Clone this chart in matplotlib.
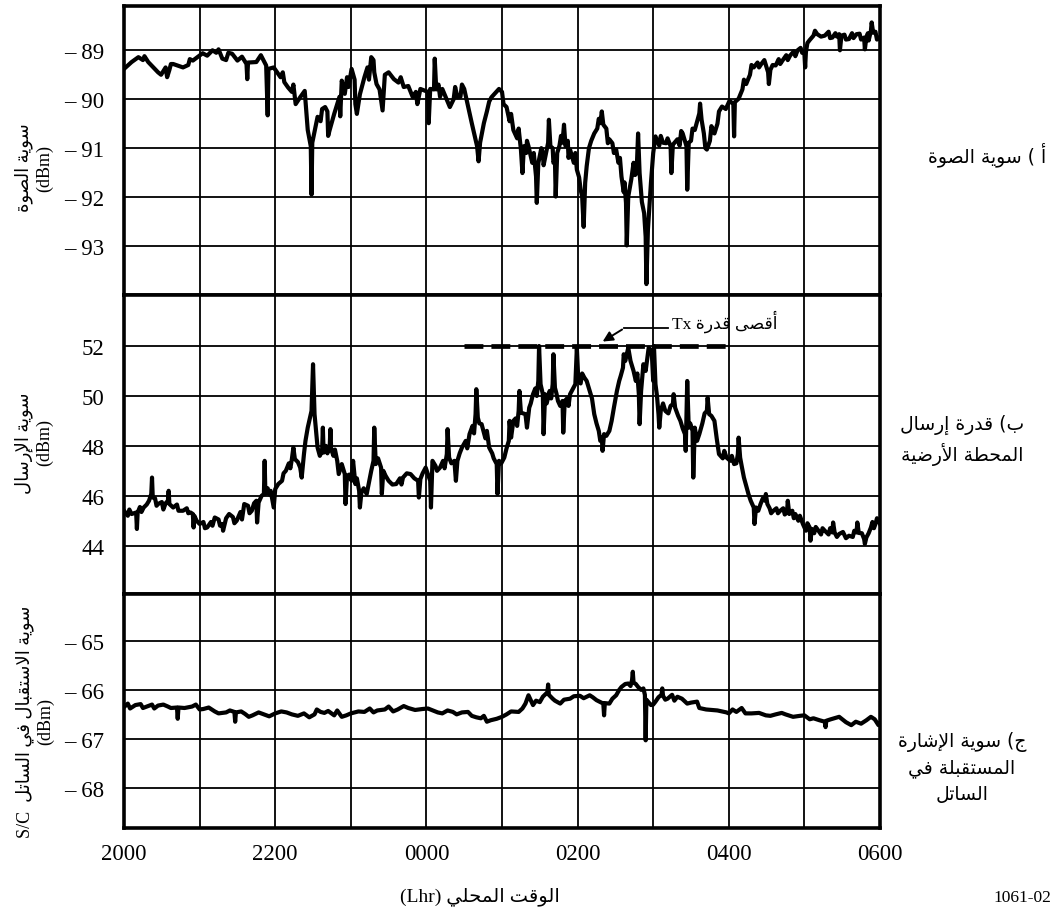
import matplotlib
matplotlib.use("Agg")
import matplotlib.pyplot as plt

# ---- Arabic shaping (presentation forms, visual order) ----
AR_FORMS = {
    'ا': (0xFE8D, 2), 'أ': (0xFE83, 2), 'إ': (0xFE87, 2),
    'ب': (0xFE8F, 4), 'ة': (0xFE93, 2), 'ت': (0xFE95, 4),
    'ج': (0xFE9D, 4), 'ح': (0xFEA1, 4), 'د': (0xFEA9, 2),
    'ر': (0xFEAD, 2), 'س': (0xFEB1, 4), 'ش': (0xFEB5, 4),
    'ص': (0xFEB9, 4), 'ض': (0xFEBD, 4), 'ط': (0xFEC1, 4),
    'ف': (0xFED1, 4), 'ق': (0xFED5, 4), 'ل': (0xFEDD, 4),
    'م': (0xFEE1, 4), 'و': (0xFEED, 2), 'ى': (0xFEEF, 2),
    'ي': (0xFEF1, 4),
}
LAM_ALEF = {'ا': 0xFEFB, 'أ': 0xFEF7, 'إ': 0xFEF9}


def ar(text):
    toks = []
    i = 0
    while i < len(text):
        c = text[i]
        if c == 'ل' and text[i + 1:i + 2] in LAM_ALEF:
            toks.append((LAM_ALEF[text[i + 1]], 2))
            i += 2
        elif c in AR_FORMS:
            toks.append(AR_FORMS[c])
            i += 1
        else:
            toks.append(c)
            i += 1
    out = []
    for k, t in enumerate(toks):
        if isinstance(t, str):
            out.append(t)
            continue
        base, n = t
        prev = toks[k - 1] if k > 0 else None
        nxt = toks[k + 1] if k + 1 < len(toks) else None
        jp = isinstance(prev, tuple) and prev[1] == 4
        jn = n == 4 and isinstance(nxt, tuple)
        off = 3 if (jp and jn) else 1 if jp else 2 if jn else 0
        out.append(chr(base + off))
    s = ''.join(out)[::-1]
    return s.translate(str.maketrans('()', ')('))


def ar_lines(*lines):
    return '\n'.join(ar(l) for l in lines)


# ---- data: hours after 2000 local time ----
# (a) noise level, dBm
noise_t = [0.00, 0.10, 0.19, 0.32, 0.45, 0.49, 0.55, 0.57, 0.65, 0.78, 0.91, 1.04, 1.10, 1.17,
           1.30, 1.43, 1.50, 1.56, 1.62, 1.63, 1.64, 1.75, 1.81, 1.88, 1.90, 1.91, 1.98, 2.07,
           2.17, 2.27, 2.33, 2.39, 2.43, 2.47, 2.48, 2.49, 2.56, 2.66, 2.72, 2.78, 2.82, 2.88,
           2.92, 3.01, 3.08, 3.12, 3.18, 3.27, 3.34, 3.42, 3.50, 3.57, 3.63, 3.76, 3.82, 3.92,
           4.02, 4.03, 4.05, 4.10, 4.11, 4.13, 4.21, 4.31, 4.41, 4.50, 4.60, 4.67, 4.69, 4.71,
           4.76, 4.86, 4.96, 5.06, 5.15, 5.25, 5.27, 5.29, 5.35, 5.45, 5.46, 5.48, 5.54, 5.61,
           5.62, 5.64, 5.70, 5.71, 5.73, 5.80, 5.82, 5.84, 5.90, 5.99, 6.06, 6.08, 6.10, 6.12,
           6.22, 6.30, 6.32, 6.34, 6.42, 6.51, 6.58, 6.64, 6.65, 6.67, 6.71, 6.78, 6.80, 6.82,
           6.88, 6.90, 6.91, 6.93, 6.97, 7.03, 7.13, 7.23, 7.24, 7.26, 7.32, 7.39, 7.44, 7.45,
           7.47, 7.55, 7.61, 7.62, 7.64, 7.71, 7.81, 7.91, 8.01, 8.06, 8.07, 8.08, 8.13, 8.23,
           8.33, 8.43, 8.52, 8.53, 8.55, 8.62, 8.71, 8.81, 8.91, 9.00, 9.01, 9.02, 9.07, 9.17,
           9.27, 9.37, 9.46, 9.47, 9.49, 9.59, 9.69, 9.79, 9.80, 9.82, 9.88, 9.89, 9.91, 9.98,
           10.0]
noise_dbm = [-89.38, -89.24, -89.14, -89.24, -89.45, -89.50, -89.35, -89.55, -89.28, -89.35,
             -89.21, -89.06, -89.11, -89.00, -89.17, -89.07, -89.21, -89.13, -89.28, -89.59,
             -89.25, -89.24, -89.10, -89.31, -90.33, -89.38, -89.35, -89.55, -89.76, -90.10,
             -89.96, -89.83, -90.63, -90.96, -91.95, -90.89, -90.36, -90.16, -90.63, -90.30,
             -90.10, -89.62, -89.89, -89.38, -90.30, -89.90, -89.55, -89.14, -89.69, -90.23,
             -89.45, -89.59, -89.66, -89.73, -89.96, -89.79, -89.85, -90.49, -89.79, -89.80,
             -89.17, -89.80, -89.79, -90.16, -89.96, -89.79, -90.49, -90.96, -91.27, -90.89,
             -90.49, -89.96, -89.79, -90.16, -90.63, -91.03, -91.51, -90.96, -90.96, -91.58,
             -92.12, -91.31, -91.10, -90.89, -90.42, -90.96, -91.24, -91.99, -91.10, -90.89,
             -90.52, -90.96, -91.03, -91.44, -91.99, -92.61, -91.71, -91.37, -90.70, -90.49,
             -90.25, -90.52, -90.82, -91.03, -91.58, -92.12, -92.99, -91.99, -91.64, -91.51,
             -90.70, -91.51, -92.33, -92.81, -93.78, -92.67, -91.71, -90.76, -90.89, -90.96,
             -91.51, -90.93, -90.82, -90.70, -90.96, -91.85, -90.89, -90.63, -90.29, -90.09,
             -90.42, -91.03, -90.70, -90.15, -90.03, -90.10, -90.76, -90.06, -89.99, -89.69,
             -89.35, -89.28, -89.45, -89.69, -89.40, -89.31, -89.21, -89.11, -89.00, -89.07,
             -89.35, -89.04, -88.79, -88.67, -88.70, -88.74, -88.67, -89.00, -88.70, -88.77,
             -88.67, -88.74, -88.98, -88.73, -88.60, -88.43, -88.64, -88.74, -88.77]
# ripple along the noise trace
noise_t_fine = [0.25, 0.27, 0.60, 0.62, 0.85, 0.87, 1.22, 1.25, 1.35, 1.38, 2.10, 2.12, 2.22,
                2.24, 2.60, 2.62, 2.69, 2.70, 2.85, 2.86, 2.95, 2.97, 3.05, 3.06, 3.22, 3.24,
                3.30, 3.31, 3.38, 3.45, 3.66, 3.70, 3.86, 3.88, 4.16, 4.18, 4.36, 4.38, 4.45,
                4.47, 4.80, 4.83, 5.00, 5.02, 5.10, 5.12, 5.20, 5.22, 5.32, 5.33, 5.40, 5.42,
                5.52, 5.55, 5.67, 5.68, 5.76, 5.78, 5.87, 5.88, 5.95, 5.97, 6.02, 6.04, 6.15,
                6.18, 6.26, 6.28, 6.38, 6.40, 6.46, 6.48, 6.54, 6.56, 6.61, 6.62, 6.74, 6.76,
                6.85, 7.00, 7.08, 7.10, 7.17, 7.19, 7.35, 7.37, 7.50, 7.52, 7.67, 7.69, 7.75,
                7.77, 7.85, 7.87, 7.96, 8.18, 8.20, 8.28, 8.30, 8.38, 8.40, 8.47, 8.58, 8.66,
                8.68, 8.76, 8.78, 8.86, 8.88, 8.95, 8.97, 9.04, 9.12, 9.14, 9.22, 9.32, 9.34,
                9.41, 9.43, 9.53, 9.55, 9.63, 9.65, 9.73, 9.75, 9.84, 9.85, 9.94, 9.96]
noise_dbm_fine = [-89.20, -89.12, -89.40, -89.28, -89.30, -89.18, -89.05, -88.98, -89.20,
                  -89.05, -89.45, -89.65, -89.85, -89.70, -90.45, -90.20, -90.25, -90.75,
                  -89.95, -90.35, -89.55, -89.75, -89.60, -90.10, -89.35, -89.60, -89.20,
                  -89.45, -89.80, -89.50, -89.55, -89.75, -89.85, -90.10, -89.70, -89.95,
                  -90.00, -89.75, -89.95, -89.70, -90.25, -90.05, -89.85, -90.10, -90.45,
                  -90.30, -90.80, -90.60, -91.10, -90.85, -91.30, -91.10, -91.00, -91.35,
                  -91.00, -91.30, -90.95, -90.75, -90.85, -91.20, -91.30, -91.10, -91.60,
                  -91.85, -91.00, -90.85, -90.60, -90.40, -90.60, -90.90, -90.90, -91.10,
                  -91.30, -91.20, -91.90, -91.70, -91.30, -91.55, -92.10, -91.10, -90.95,
                  -90.75, -90.90, -90.80, -90.95, -90.65, -90.85, -90.60, -90.70, -91.00,
                  -90.85, -90.55, -90.50, -90.25, -90.20, -89.80, -89.60, -89.50, -89.30,
                  -89.25, -89.35, -89.20, -89.30, -89.18, -89.28, -89.10, -89.20, -89.02,
                  -89.12, -88.95, -89.05, -88.85, -88.70, -88.60, -88.72, -88.62, -88.75,
                  -88.65, -88.72, -88.68, -88.78, -88.65, -88.75, -88.66, -88.78, -88.65,
                  -88.80, -88.62, -88.78]

# (b) earth-station transmit power, dBm
tx_t = [0.00, 0.10, 0.16, 0.17, 0.18, 0.26, 0.33, 0.36, 0.37, 0.38, 0.45, 0.58, 0.59, 0.60,
        0.65, 0.78, 0.88, 0.91, 0.92, 0.93, 1.00, 1.10, 1.20, 1.30, 1.31, 1.39, 1.49, 1.59,
        1.69, 1.75, 1.76, 1.78, 1.85, 1.86, 1.87, 1.94, 1.98, 2.00, 2.04, 2.14, 2.22, 2.24,
        2.26, 2.33, 2.35, 2.38, 2.43, 2.48, 2.50, 2.52, 2.56, 2.62, 2.63, 2.64, 2.72, 2.73,
        2.74, 2.82, 2.84, 2.88, 2.92, 2.93, 2.95, 3.01, 3.03, 3.06, 3.11, 3.12, 3.14, 3.21,
        3.30, 3.31, 3.33, 3.40, 3.41, 3.43, 3.50, 3.60, 3.69, 3.79, 3.89, 3.90, 3.92, 3.99,
        4.05, 4.06, 4.08, 4.18, 4.27, 4.28, 4.30, 4.37, 4.39, 4.41, 4.47, 4.57, 4.65, 4.66,
        4.68, 4.73, 4.83, 4.93, 4.94, 4.96, 5.03, 5.09, 5.10, 5.12, 5.15, 5.22, 5.23, 5.25,
        5.31, 5.33, 5.36, 5.41, 5.48, 5.49, 5.51, 5.54, 5.55, 5.57, 5.61, 5.67, 5.68, 5.70,
        5.74, 5.80, 5.81, 5.83, 5.90, 5.97, 5.99, 6.01, 6.09, 6.16, 6.22, 6.28, 6.32, 6.33,
        6.35, 6.42, 6.48, 6.55, 6.60, 6.61, 6.63, 6.67, 6.74, 6.81, 6.82, 6.84, 6.87, 6.94,
        6.98, 7.00, 7.01, 7.03, 7.07, 7.08, 7.10, 7.16, 7.26, 7.27, 7.29, 7.36, 7.42, 7.43,
        7.45, 7.47, 7.52, 7.53, 7.55, 7.61, 7.71, 7.72, 7.74, 7.81, 7.87, 7.97, 8.07, 8.12,
        8.13, 8.15, 8.20, 8.26, 8.33, 8.34, 8.36, 8.42, 8.48, 8.49, 8.51, 8.59, 8.68, 8.77,
        8.78, 8.80, 8.88, 8.98, 9.07, 9.08, 9.10, 9.17, 9.27, 9.37, 9.38, 9.40, 9.46, 9.59,
        9.69, 9.70, 9.72, 9.79, 9.80, 9.82, 9.88, 9.94, 9.98, 10.0]
tx_dbm = [45.40, 45.27, 45.33, 44.67, 45.33, 45.53, 45.80, 46.07, 46.73, 45.93, 45.67, 45.80,
          46.20, 45.67, 45.53, 45.40, 45.33, 45.27, 44.73, 45.20, 44.87, 44.73, 45.13, 44.87,
          44.60, 45.27, 45.00, 45.67, 45.40, 45.80, 44.93, 45.73, 46.07, 47.40, 46.07, 46.20,
          45.53, 46.27, 46.47, 47.00, 47.47, 47.93, 47.47, 47.13, 46.73, 47.67, 48.73, 49.40,
          51.27, 49.27, 47.93, 47.80, 48.73, 47.73, 47.93, 48.67, 47.87, 47.40, 46.87, 47.27,
          46.87, 45.67, 46.80, 46.60, 47.40, 46.47, 46.20, 45.53, 46.13, 46.07, 47.40, 48.73,
          47.27, 47.13, 46.07, 47.00, 46.60, 46.47, 46.73, 46.87, 46.60, 45.93, 46.67, 47.13,
          46.60, 45.53, 47.40, 47.13, 47.67, 48.67, 47.53, 47.40, 46.60, 47.40, 47.93, 48.47,
          49.27, 50.27, 49.13, 48.87, 47.93, 47.27, 46.07, 47.40, 47.53, 48.20, 49.00, 48.33,
          49.00, 49.40, 50.20, 49.33, 49.27, 48.73, 49.53, 50.07, 50.60, 52.00, 50.47, 50.07,
          48.47, 50.07, 49.93, 50.47, 51.67, 50.33, 49.80, 49.80, 48.53, 49.80, 50.07, 50.47,
          51.93, 50.60, 50.73, 50.20, 49.27, 48.60, 48.33, 47.80, 48.47, 48.60, 49.53, 50.60,
          51.13, 51.67, 51.40, 51.93, 51.00, 50.07, 48.87, 50.20, 51.27, 51.93, 51.80, 50.60,
          52.00, 50.47, 49.27, 48.73, 49.40, 49.40, 49.67, 50.07, 49.53, 49.00, 48.47, 47.80,
          50.60, 48.73, 48.60, 46.73, 48.73, 48.47, 49.40, 49.93, 49.27, 49.00, 47.67, 47.53,
          47.27, 47.67, 48.33, 47.53, 46.73, 46.07, 45.53, 44.87, 45.53, 45.67, 45.80, 46.07,
          45.67, 45.40, 45.40, 45.33, 45.80, 45.27, 45.27, 44.87, 44.73, 44.20, 44.67, 44.67,
          44.60, 44.53, 44.93, 44.53, 44.47, 44.40, 44.53, 44.93, 44.51, 44.27, 44.07, 44.33,
          44.73, 44.87, 45.00, 44.87]
tx_t_fine = [0.05, 0.07, 0.21, 0.23, 0.30, 0.41, 0.43, 0.50, 0.52, 0.55, 0.70, 0.72, 0.83,
             0.85, 0.96, 1.05, 1.07, 1.15, 1.17, 1.25, 1.27, 1.35, 1.44, 1.46, 1.54, 1.56,
             1.64, 1.66, 1.72, 1.82, 1.90, 1.92, 2.09, 2.11, 2.18, 2.20, 2.30, 2.40, 2.59,
             2.67, 2.69, 2.77, 2.79, 2.98, 3.08, 3.17, 3.25, 3.27, 3.36, 3.46, 3.55, 3.65,
             3.67, 3.74, 3.84, 3.95, 4.12, 4.14, 4.22, 4.24, 4.33, 4.44, 4.52, 4.54, 4.61,
             4.63, 4.70, 4.78, 4.80, 4.87, 4.89, 4.99, 5.06, 5.18, 5.20, 5.28, 5.38, 5.44,
             5.46, 5.59, 5.63, 5.65, 5.72, 5.77, 5.86, 5.88, 5.94, 6.04, 6.06, 6.12, 6.19,
             6.25, 6.30, 6.38, 6.45, 6.52, 6.57, 6.70, 6.77, 6.79, 6.90, 7.05, 7.13, 7.20,
             7.23, 7.33, 7.39, 7.49, 7.58, 7.65, 7.68, 7.77, 7.84, 7.92, 7.94, 8.02, 8.04,
             8.10, 8.17, 8.23, 8.29, 8.39, 8.45, 8.54, 8.56, 8.63, 8.65, 8.72, 8.74, 8.84,
             8.86, 8.92, 8.94, 9.02, 9.04, 9.13, 9.15, 9.22, 9.24, 9.32, 9.34, 9.43, 9.51,
             9.55, 9.64, 9.66, 9.76, 9.85, 9.90, 9.92, 9.96]
tx_dbm_fine = [45.20, 45.45, 45.55, 45.35, 45.65, 45.90, 45.60, 45.75, 45.45, 45.70, 45.65,
               45.40, 45.50, 45.30, 45.00, 44.95, 44.70, 44.95, 44.80, 45.05, 44.80, 45.10,
               45.15, 44.90, 45.35, 45.05, 45.60, 45.30, 45.70, 46.00, 46.30, 46.05, 46.60,
               46.90, 47.30, 47.10, 47.35, 48.20, 47.60, 48.00, 47.70, 47.60, 47.85, 46.85,
               46.70, 46.30, 46.70, 47.00, 47.50, 46.80, 46.45, 46.70, 46.45, 46.90, 46.70,
               46.90, 47.20, 47.00, 47.40, 47.10, 47.30, 47.70, 48.20, 47.90, 48.80, 48.50,
               48.90, 48.30, 48.60, 47.70, 47.50, 47.30, 47.90, 49.10, 48.80, 49.30, 49.70,
               50.30, 50.00, 49.70, 50.20, 49.90, 50.10, 49.60, 49.90, 49.60, 50.30, 50.50,
               50.90, 50.60, 49.90, 48.90, 48.20, 48.40, 49.00, 50.20, 50.80, 51.40, 50.60,
               50.90, 51.00, 50.00, 49.70, 49.30, 49.60, 49.20, 48.70, 48.90, 48.20, 48.90,
               49.30, 49.20, 48.30, 47.50, 47.80, 47.40, 47.60, 47.30, 47.20, 46.40, 45.80,
               45.40, 45.90, 45.50, 45.30, 45.50, 45.30, 45.50, 45.25, 45.40, 45.10, 45.00,
               45.20, 44.60, 44.90, 44.50, 44.75, 44.45, 44.70, 44.45, 44.70, 44.35, 44.55,
               44.30, 44.35, 44.60, 44.50, 44.50, 44.95, 44.70, 45.10]

# (c) received level at the satellite, dBm
rx_t = [0.00, 0.15, 0.30, 0.45, 0.58, 0.70, 0.71, 0.72, 0.80, 0.90, 1.05, 1.20, 1.35, 1.46,
        1.47, 1.48, 1.60, 1.70, 1.85, 2.00, 2.15, 2.30, 2.45, 2.60, 2.70, 2.88, 3.00, 3.18,
        3.35, 3.56, 3.76, 3.95, 4.10, 4.21, 4.35, 4.47, 4.60, 4.72, 4.80, 4.93, 5.06, 5.22,
        5.31, 5.35, 5.41, 5.54, 5.60, 5.61, 5.62, 5.67, 5.77, 5.90, 6.03, 6.16, 6.25, 6.34,
        6.35, 6.36, 6.42, 6.51, 6.58, 6.67, 6.72, 6.73, 6.74, 6.80, 6.87, 6.89, 6.90, 6.91,
        6.97, 7.03, 7.11, 7.12, 7.13, 7.19, 7.32, 7.45, 7.58, 7.61, 7.78, 7.97, 8.10, 8.17,
        8.30, 8.49, 8.62, 8.75, 8.94, 9.07, 9.20, 9.27, 9.28, 9.29, 9.46, 9.62, 9.75, 9.88,
        9.98, 10.0]
rx_dbm = [-66.35, -66.31, -66.34, -66.32, -66.34, -66.36, -66.59, -66.36, -66.37, -66.34,
          -66.39, -66.44, -66.46, -66.45, -66.65, -66.46, -66.49, -66.52, -66.50, -66.48,
          -66.46, -66.53, -66.56, -66.45, -66.43, -66.55, -66.48, -66.45, -66.42, -66.44,
          -66.37, -66.39, -66.43, -66.48, -66.45, -66.46, -66.53, -66.58, -66.65, -66.59,
          -66.50, -66.45, -66.28, -66.11, -66.31, -66.14, -66.05, -65.89, -66.10, -66.18,
          -66.28, -66.18, -66.12, -66.11, -66.21, -66.28, -66.52, -66.27, -66.28, -66.11,
          -65.94, -65.87, -65.80, -65.63, -65.85, -65.94, -65.97, -66.10, -67.03, -66.20,
          -66.31, -66.24, -66.10, -65.97, -66.12, -66.18, -66.14, -66.28, -66.24, -66.37,
          -66.41, -66.46, -66.45, -66.37, -66.48, -66.52, -66.50, -66.50, -66.53, -66.60,
          -66.62, -66.65, -66.76, -66.63, -66.55, -66.72, -66.69, -66.55, -66.72, -66.68]
rx_t_fine = [0.05, 0.08, 0.22, 0.25, 0.37, 0.40, 0.52, 0.62, 0.95, 1.00, 1.12, 1.25, 1.40,
             1.55, 1.65, 1.78, 1.92, 2.08, 2.22, 2.38, 2.52, 2.55, 2.65, 2.78, 2.82, 2.94,
             3.10, 3.25, 3.30, 3.45, 3.50, 3.62, 3.70, 3.85, 4.02, 4.15, 4.28, 4.40, 4.55,
             4.66, 4.76, 4.85, 5.00, 5.12, 5.27, 5.45, 5.50, 5.70, 5.82, 5.95, 6.08, 6.20,
             6.30, 6.46, 6.55, 6.63, 6.70, 6.77, 6.84, 7.00, 7.07, 7.16, 7.25, 7.28, 7.38,
             7.50, 7.70, 7.85, 8.00, 8.05, 8.22, 8.40, 8.55, 8.70, 8.85, 9.00, 9.12, 9.35,
             9.55, 9.68, 9.82, 9.93]
rx_dbm_fine = [-66.28, -66.38, -66.29, -66.37, -66.30, -66.38, -66.30, -66.37, -66.30,
               -66.40, -66.36, -66.48, -66.42, -66.44, -66.55, -66.46, -66.54, -66.44,
               -66.50, -66.48, -66.50, -66.40, -66.47, -66.52, -66.42, -66.52, -66.44,
               -66.38, -66.46, -66.40, -66.34, -66.40, -66.33, -66.41, -66.38, -66.46,
               -66.42, -66.50, -66.45, -66.56, -66.53, -66.62, -66.55, -66.44, -66.38,
               -66.22, -66.25, -66.22, -66.20, -66.13, -66.17, -66.15, -66.25, -66.18,
               -66.00, -65.88, -65.92, -65.88, -66.00, -66.30, -66.15, -66.20, -66.10,
               -66.22, -66.18, -66.26, -66.40, -66.42, -66.48, -66.40, -66.48, -66.47,
               -66.53, -66.47, -66.55, -66.52, -66.58, -66.60, -66.66, -66.65, -66.62,
               -66.60]

max_tx = 52
max_tx_span = [4.5, 8.0]

hour_ticks = list(range(11))
hour_labels = ['2000', '', '2200', '', '0000', '', '0200', '', '0400', '', '0600']


def merged(t1, v1, t2, v2):
    pts = sorted(zip(t1 + t2, v1 + v2))
    return [p[0] for p in pts], [p[1] for p in pts]


panels = [
    dict(trace=merged(noise_t, noise_dbm, noise_t_fine, noise_dbm_fine),
         ylim=(-94, -88.1), ticks=[-89, -90, -91, -92, -93],
         labels=['\u2013 89', '\u2013 90', '\u2013 91', '\u2013 92', '\u2013 93']),
    dict(trace=merged(tx_t, tx_dbm, tx_t_fine, tx_dbm_fine),
         ylim=(42.05, 54.05), ticks=[52, 50, 48, 46, 44],
         labels=['52', '50', '48', '46', '44']),
    dict(trace=merged(rx_t, rx_dbm, rx_t_fine, rx_dbm_fine),
         ylim=(-68.82, -64.05), ticks=[-65, -66, -67, -68],
         labels=['\u2013 65', '\u2013 66', '\u2013 67', '\u2013 68']),
]

SERIF = ['Liberation Serif', 'DejaVu Sans']
ARAB = ['DejaVu Sans']

fig = plt.figure(figsize=(10.53, 9.12), dpi=100)
gs = fig.add_gridspec(3, 1, left=0.1178, right=0.8357, top=0.992, bottom=0.091,
                      hspace=0, height_ratios=[289, 300, 234])

axes = []
for k, p in enumerate(panels):
    ax = fig.add_subplot(gs[k])
    t, v = p['trace']
    ax.plot(t, v, color='k', lw=3.0, solid_joinstyle='round')
    ax.set_xlim(0, 10)
    ax.set_ylim(*p['ylim'])
    ax.set_yticks(p['ticks'])
    ax.set_yticklabels(p['labels'], family=SERIF, fontsize=16.5)
    ax.set_xticks(hour_ticks)
    if k == 2:
        ax.set_xticklabels(hour_labels, family=SERIF, fontsize=16.5)
    else:
        ax.set_xticklabels([])
    ax.tick_params(length=0, pad=14)
    ax.tick_params(axis='x', pad=11)
    ax.grid(True, color='k', lw=1.3)
    ax.set_axisbelow(True)
    for s in ax.spines.values():
        s.set_linewidth(2.6)
    axes.append(ax)

# maximum transmit power marker
ax2 = axes[1]
ax2.plot(max_tx_span, [max_tx, max_tx], color='k', lw=3.4, dashes=(4, 1.7))
ax2.plot([7.2, 6.62], [52.72, 52.72], color='k', lw=1.3)
ax2.annotate('', xy=(6.30, 52.12), xytext=(6.62, 52.72),
             arrowprops=dict(arrowstyle='-|>', color='k', lw=1.4, mutation_scale=15))
ax2.text(7.25, 53.0, 'Tx ' + ar('أقصى قدرة'), family=SERIF, fontsize=12.5,
         ha='left', va='center')


def px(x, y):
    return x / 1053, 1 - y / 912


# left axis titles
fig.text(*px(34, 168), ar('سوية الصوة') + '\n(dBm)', family=SERIF, fontsize=13,
         rotation=90, ha='center', va='center', multialignment='center')
fig.text(*px(34, 443), ar('سوية الإرسال') + '\n(dBm)', family=SERIF, fontsize=13,
         rotation=90, ha='center', va='center', multialignment='center')
fig.text(*px(35, 722), 'S/C  ' + ar('سوية الاستقبال في الساتل') + '\n(dBm)', family=SERIF,
         fontsize=13, rotation=90, ha='center', va='center', multialignment='center')

# right-hand panel captions
fig.text(*px(1046, 155), ar('أ ) سوية الصوة'), family=ARAB, fontsize=13.5,
         ha='right', va='center')
fig.text(*px(962, 440), ar_lines('ب) قدرة إرسال', 'المحطة الأرضية'), family=ARAB,
         fontsize=13.5, ha='center', va='center', multialignment='center', linespacing=1.45)
fig.text(*px(962, 768), ar_lines('ج) سوية الإشارة', 'المستقبلة في', 'الساتل'), family=ARAB,
         fontsize=13.5, ha='center', va='center', multialignment='center', linespacing=1.45)

# x axis title and figure number
fig.text(*px(480, 897), '(Lhr) ' + ar('الوقت المحلي'), family=SERIF, fontsize=14,
         ha='center', va='center')
fig.text(*px(1051, 898), '1061-02', family=SERIF, fontsize=12.5, ha='right', va='center')

fig.savefig('out.png', dpi=100)
